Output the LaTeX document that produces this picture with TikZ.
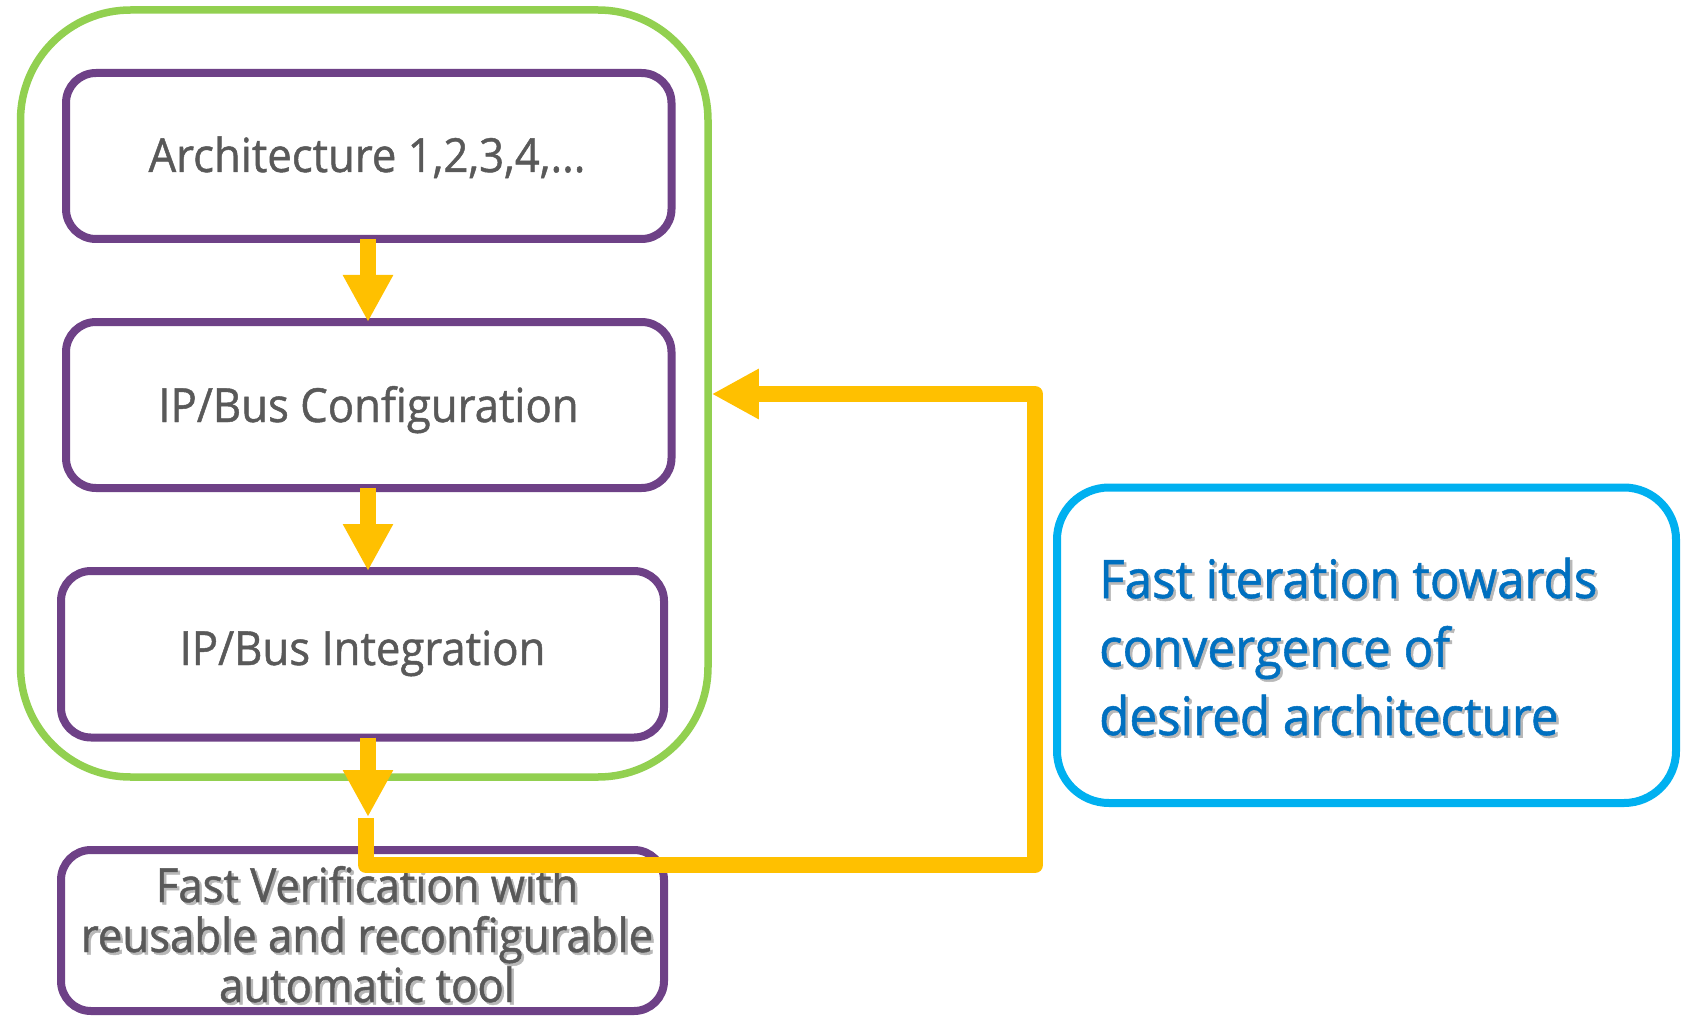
\documentclass[tikz,border=0pt]{standalone}
\usepackage{fontspec}
\setmainfont{Open Sans}[FakeStretch=0.93,FakeBold=1]
\usetikzlibrary{arrows.meta}
\definecolor{purp}{HTML}{6E4187}
\definecolor{grn}{HTML}{92D050}
\definecolor{org}{HTML}{FFC000}
\definecolor{bluebd}{HTML}{00B0F0}
\definecolor{bluetx}{HTML}{0070C0}
\definecolor{graytx}{HTML}{595959}
\newcommand\shadowed[1]{\makebox[0pt][l]{\hspace{2.5pt}\raisebox{-2.5pt}{\textcolor{black!28}{#1}}}#1}
\begin{document}
\begin{tikzpicture}[x=1pt,y=-1pt,
  pbox/.style={draw=purp, line width=8pt, rounded corners=30pt, inner sep=0pt, outer sep=0pt},
  gbox/.style={draw=grn, line width=7.5pt, rounded corners=110pt, inner sep=0pt},
  bbox/.style={draw=bluebd, line width=8pt, rounded corners=52pt, inner sep=0pt, outer sep=0pt},
  txt/.style={anchor=base, inner sep=0pt, text=graytx, font=\fontsize{47}{50}\selectfont},
  btxt/.style={anchor=base west, inner sep=0pt, text=bluetx, align=left, font=\fontsize{53}{68.5}\selectfont},
  arr/.style={draw=org, line width=16pt, -{Triangle[width=47pt,length=47pt]}},
  fb/.style={draw=org, line width=16pt, line join=round, -{Triangle[width=47pt,length=47pt]}}]
\useasboundingbox (0,0) rectangle (1683,1016);
\fill[white] (0,0) rectangle (1683,1016);
% boxes
\node[gbox, minimum width=687.5pt, minimum height=767pt] (green) at (364.25,393.5) {};
\node[pbox, minimum width=605.5pt, minimum height=166pt] (b1) at (368.75,156) {};
\node[pbox, minimum width=605.5pt, minimum height=166pt] (b2) at (368.75,405) {};
\node[pbox, minimum width=603pt, minimum height=166.5pt] (b3) at (362.5,654.25) {};
\node[pbox, minimum width=603pt, minimum height=161pt] (b4) at (362.5,930.5) {};
\node[bbox, minimum width=619pt, minimum height=315.5pt] (blue) at (1366.5,645.25) {};
% texts
\node[txt] (t1) at (367,172) {Architecture 1,2,3,4,...};
\node[txt] (t2) at (368.5,422) {IP/Bus Configuration};
\node[txt] (t3) at (362.5,665) {IP/Bus Integration};
\node[txt, align=center] (t4) at (367,1002) {\shadowed{Fast Verification with}\\\shadowed{reusable and reconfigurable}\\\shadowed{automatic tool}};
\node[btxt] (t5) at (1099,735) {\shadowed{Fast iteration towards}\\\shadowed{convergence of}\\\shadowed{desired architecture}};
% arrows
\coordinate (ax) at (368,0);
\coordinate (tip3) at (368,817);
\coordinate (f0) at (366,818);
\coordinate (fr) at (1035,865);
\coordinate (ftop) at (1035,394);
\draw[arr] (b1.south -| ax) -- (b2.north -| ax);
\draw[arr] (b2.south -| ax) -- (b3.north -| ax);
\draw[arr] (b3.south -| ax) -- (tip3);
\draw[fb] (f0) |- (fr) -- (ftop) -- (ftop -| green.east);
\end{tikzpicture}
\end{document}
